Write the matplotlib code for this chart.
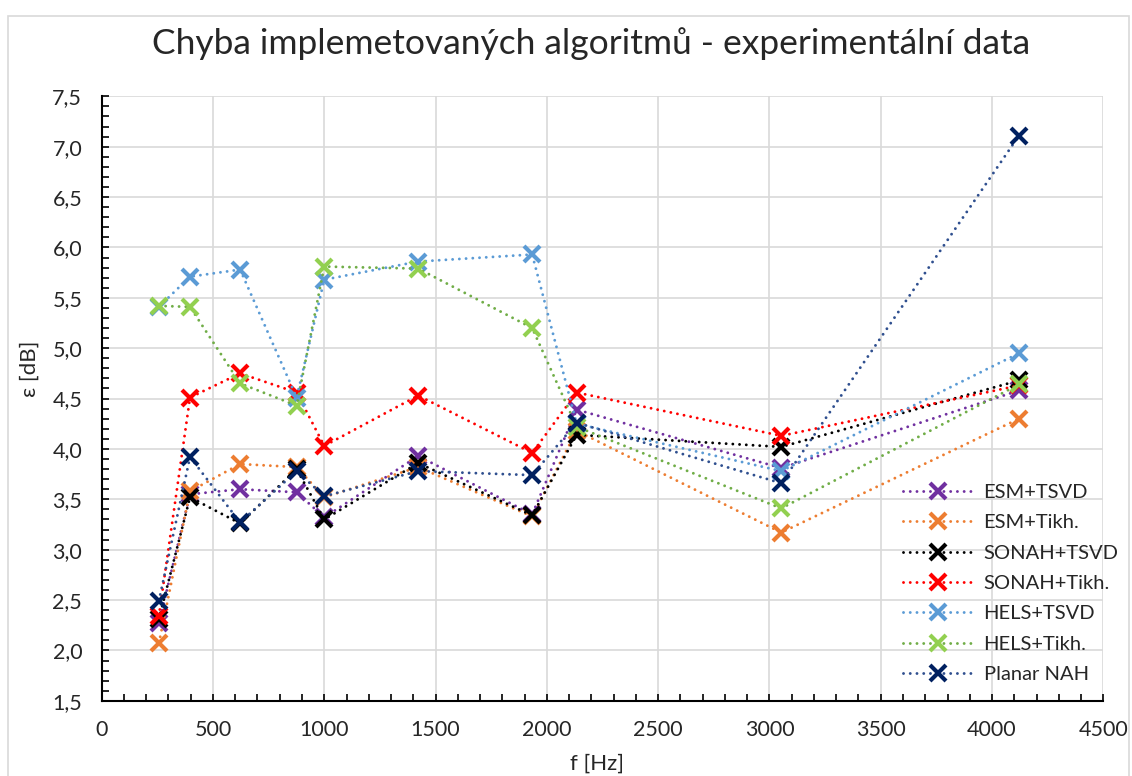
import matplotlib
matplotlib.use('Agg')
import matplotlib.pyplot as plt
from matplotlib.patches import Rectangle
from matplotlib.ticker import MultipleLocator, FuncFormatter

# frequencies [Hz]
freq = [257, 397, 622, 876, 1000, 1422, 1934, 2134, 3053, 4121]

# error of each method [dB]
esm_tsvd = [2.27, 3.55, 3.60, 3.57, 3.32, 3.93, 3.35, 4.39, 3.81, 4.58]
esm_tikh = [2.07, 3.58, 3.85, 3.82, 3.52, 3.82, 3.33, 4.18, 3.17, 4.30]
sonah_tsvd = [2.31, 3.52, 3.26, 3.80, 3.30, 3.86, 3.34, 4.14, 4.02, 4.68]
sonah_tikh = [2.34, 4.51, 4.75, 4.56, 4.03, 4.53, 3.96, 4.56, 4.13, 4.63]
hels_tsvd = [5.41, 5.71, 5.78, 4.51, 5.68, 5.86, 5.93, 4.25, 3.78, 4.95]
hels_tikh = [5.42, 5.41, 4.65, 4.43, 5.81, 5.79, 5.20, 4.22, 3.41, 4.64]
planar_nah = [2.49, 3.92, 3.27, 3.78, 3.53, 3.78, 3.74, 4.26, 3.66, 7.11]

labels = ['ESM+TSVD', 'ESM+Tikh.', 'SONAH+TSVD', 'SONAH+Tikh.',
          'HELS+TSVD', 'HELS+Tikh.', 'Planar NAH']
series = [esm_tsvd, esm_tikh, sonah_tsvd, sonah_tikh, hels_tsvd, hels_tikh, planar_nah]
line_colors = ['#7030A0', '#ED7D31', '#000000', '#FF0000', '#5B9BD5', '#70AD47', '#2F4F8F']
marker_colors = ['#7030A0', '#ED7D31', '#000000', '#FF0000', '#5B9BD5', '#92D050', '#002060']

plt.rcParams['font.family'] = ['Lato', 'DejaVu Sans']

fig = plt.figure(figsize=(11.32, 7.76), dpi=100)
ax = fig.add_axes([0.0898, 0.0969, 0.8849, 0.779])

for i, (vals, lab) in enumerate(zip(series, labels)):
    ax.plot(freq, vals, label=lab, color=line_colors[i], linewidth=2.1,
            linestyle=(0, (0.01, 2.3)), dash_capstyle='round',
            marker='x', markersize=12, markeredgewidth=3.0,
            markeredgecolor=marker_colors[i], zorder=3 + i, clip_on=False)

ax.set_xlim(0, 4500)
ax.set_ylim(1.5, 7.5)
ax.xaxis.set_major_locator(MultipleLocator(500))
ax.xaxis.set_minor_locator(MultipleLocator(100))
ax.yaxis.set_major_locator(MultipleLocator(0.5))
ax.yaxis.set_minor_locator(MultipleLocator(0.1))
ax.yaxis.set_major_formatter(FuncFormatter(lambda v, p: f'{v:.1f}'.replace('.', ',')))

ax.grid(True, which='major', color='#d9d9d9', linewidth=1.2, zorder=0)
ax.set_axisbelow(True)
for s in ['top', 'right']:
    ax.spines[s].set_visible(False)
for s in ['left', 'bottom']:
    ax.spines[s].set_linewidth(1.5)
    ax.spines[s].set_zorder(2.5)

ax.tick_params(which='both', direction='in', length=5, width=1.2, labelsize=15.5,
               colors='black')
ax.tick_params(axis='x', which='major', pad=14)
ax.tick_params(axis='y', which='major', pad=14)
ax.tick_params(labelcolor='#262626')

ax.set_xlabel('f [Hz]', fontsize=16, color='#262626')
ax.xaxis.set_label_coords(0.495, -0.088)
ax.set_ylabel('ε [dB]', fontsize=16, color='#262626')
ax.yaxis.set_label_coords(-0.062, 0.55)

fig.text(0.522, 0.944, 'Chyba implemetovaných algoritmů - experimentální data',
         ha='center', va='center', fontsize=25.5, color='#262626')

ax.legend(loc='upper left', bbox_to_anchor=(0.800, 0.359), frameon=False,
          fontsize=14.5, handlelength=3.45, handletextpad=0.55, labelspacing=0.66,
          borderpad=0, borderaxespad=0, numpoints=1, labelcolor='#262626')

fig.patches.append(Rectangle((8 / 1132, -0.01), 1121 / 1132, 0.995 - 12 / 776 + 0.01,
                             transform=fig.transFigure, fill=False,
                             edgecolor='#d9d9d9', linewidth=1.2))

plt.savefig('out.png', dpi=100)
